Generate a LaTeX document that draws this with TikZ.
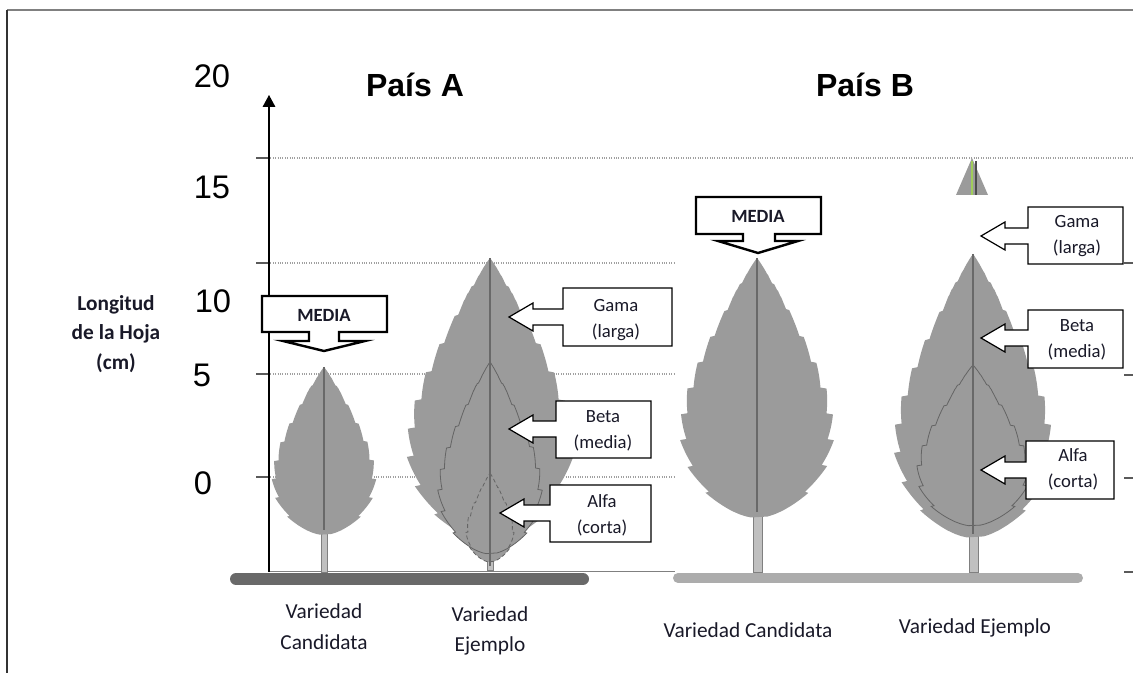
\documentclass[tikz,border=0pt]{standalone}
\usepackage{fontspec}
\setmainfont{Carlito}
\newfontfamily\arialf{Liberation Sans}
\usetikzlibrary{arrows.meta}
\definecolor{leafgray}{RGB}{155,155,155}
\definecolor{ribgray}{RGB}{105,105,105}
\definecolor{outgray}{RGB}{100,100,100}
\definecolor{stemgray}{RGB}{192,192,192}
\definecolor{gridgray}{RGB}{160,160,160}
\definecolor{tickgray}{RGB}{90,90,90}
\definecolor{txt}{RGB}{25,25,40}
\definecolor{groundA}{RGB}{105,105,105}
\definecolor{groundB}{RGB}{172,172,172}
\definecolor{tipgreen}{RGB}{160,205,90}
\newcommand\leafshape[5]{%
 plot[domain=0.002:0.998,samples=241,variable=\s] ({#1+#4*lw(\s)*(0.955+0.09*(1-saw(\s,#5)))},{#2+(#3-#2)*\s})
 -- plot[domain=0.998:0.002,samples=241,variable=\s] ({#1-#4*lw(\s)*(0.955+0.09*(1-saw(\s,#5)))},{#2+(#3-#2)*\s}) -- cycle}
\newcommand\calloutL[6]{%
 \path[callbox] (#1,#3) -- (#2,#3) -- (#2,#4) -- (#1,#4) -- (#1,#6+8) -- (#5+24,#6+8) -- (#5+24,#6+14) -- (#5,#6) -- (#5+24,#6-14) -- (#5+24,#6-8) -- (#1,#6-8) -- cycle;}
\begin{document}
\begin{tikzpicture}[x=0.75pt,y=-0.75pt,
 declare function={lw(\a)=(sin(180*(\a)^1.7))^0.55; saw(\a,\b)=\a*\b-floor(\a*\b);},
 leaf/.style={fill=leafgray},
 inner/.style={draw=outgray,line width=0.6pt},
 rib/.style={draw=ribgray,line width=0.9pt},
 stem/.style={fill=stemgray,draw=gray,line width=0.4pt},
 grid/.style={draw=gridgray,densely dotted,line width=0.8pt},
 tickm/.style={draw=tickgray,line width=1pt},
 callbox/.style={fill=white,draw=black,line width=0.9pt,line join=miter},
 mediabox/.style={fill=white,draw=black,line width=1.8pt,line join=miter},
 ctext/.style={inner sep=0pt,align=center,text=txt,font=\fontsize{14}{19.5}\selectfont},
 mtext/.style={inner sep=0pt,text=txt,font=\fontsize{14}{16}\selectfont\bfseries},
 blabel/.style={inner sep=0pt,align=center,text=txt,font=\fontsize{16}{23}\selectfont},
 num/.style={inner sep=0pt,anchor=base,font=\arialf\fontsize{24.5}{28}\selectfont},
 title/.style={inner sep=0pt,anchor=base,font=\arialf\bfseries\fontsize{24}{28}\selectfont}
]
\useasboundingbox (0,0) rectangle (1133,673);
% frame
\draw[gray,line width=1.2pt] (7,10) -- (1133,10);
\draw[black!80,line width=1.2pt] (7,10) -- (7,673);
% grid lines
\draw[grid] (256,158) -- (1133,158);
\draw[grid] (256,263) -- (675,263);
\draw[grid] (256,374) -- (675,374);
\draw[grid] (256,477) -- (675,477);
\draw[gray,line width=0.6pt] (269,571) -- (675,571);
\foreach \yy in {158,263,374,477} \draw[tickm] (256,\yy) -- (269,\yy);
\foreach \yy in {263,375,478,572} \draw[tickm] (1124,\yy) -- (1133,\yy);
% axis
\coordinate (axbot) at (269,572);
\coordinate (axtop) at (269,95);
\draw[black,line width=0.9pt,-{Triangle[length=9pt,width=9.5pt]}] (axbot) -- (axtop);
% numbers
\node[num] (n20) at (212,88) {20};
\node[num] (n15) at (212,199) {15};
\node[num] (n10) at (213,313) {10};
\node[num] (n5) at (202,387) {5};
\node[num] (n0) at (203,495) {0};
% titles
\node[title] (ta) at (415,97) {País A};
\node[title] (tb) at (865,97) {País B};
% y label
\node[inner sep=0pt,align=center,text=txt,font=\fontsize{16}{22}\selectfont\bfseries] (ylab) at (116,334) {Longitud\\de la Hoja\\(cm)};
% ground bars
\draw[groundA,line width=9pt,line cap=round] (236,579) -- (583,579);
\draw[groundB,line width=7.5pt,line cap=round] (678,578) -- (1078,578);
% stems (behind the leaves)
\filldraw[stem] (321,525) rectangle (327,572);
\filldraw[stem] (487,550) rectangle (493,570);
\filldraw[stem] (753,505) rectangle (762,572);
\filldraw[stem] (969,525) rectangle (978,572);
% candidate A
\fill[leaf] \leafshape{324}{367}{535}{50}{9};
\draw[rib] (324,367) -- (324,530);
% example A
\fill[leaf] \leafshape{490}{258}{542}{80}{10};
\fill[leaf] \leafshape{490}{362}{554}{50}{9};
\fill[leaf] \leafshape{490}{473}{562}{23}{6};
\draw[inner] \leafshape{490}{362}{554}{50}{9};
\draw[inner,densely dashed] \leafshape{490}{473}{562}{23}{6};
\draw[rib] (490,258) -- (490,566);
% candidate B
\fill[leaf] \leafshape{757}{258}{518}{74}{10};
\draw[rib] (757,258) -- (757,512);
% example B
\fill[leaf] \leafshape{973}{254}{538}{76}{10};
\draw[inner] \leafshape{973}{365}{526}{54}{8};
\draw[rib] (973,254) -- (973,534);
% tiny tip at top right
\fill[leafgray] (956,195) -- (972,158) -- (988,195) -- cycle;
\draw[tipgreen,line width=1.5pt] (972,161) -- (972,195);
\draw[black!70,line width=0.8pt] (976,161) -- (976,195);
% MEDIA callouts
\path[mediabox] (262,296) -- (387,296) -- (387,332) -- (339,332) -- (339,341) -- (365,341) -- (324,351) -- (283,341) -- (309,341) -- (309,332) -- (262,332) -- cycle;
\node[mtext] (mediaA) at (324,315) {MEDIA};
\path[mediabox] (696,197) -- (821,197) -- (821,234) -- (775,234) -- (775,241) -- (798,241) -- (758,253) -- (718,241) -- (743,241) -- (743,234) -- (696,234) -- cycle;
\node[mtext] (mediaB) at (758,216) {MEDIA};
% side callouts
\calloutL{563}{672}{288}{346}{509}{317}
\node[ctext] (gamaA) at (616,320) {Gama\\(larga)};
\calloutL{556}{651}{401}{458}{509}{429}
\node[ctext] (betaA) at (603,431) {Beta\\(media)};
\calloutL{550}{651}{485}{542}{500}{513}
\node[ctext] (alfaA) at (602,515) {Alfa\\(corta)};
\calloutL{1028}{1123}{207}{264}{981}{236}
\node[ctext] (gamaB) at (1077,236) {Gama\\(larga)};
\calloutL{1028}{1123}{310}{368}{981}{338}
\node[ctext] (betaB) at (1077,340) {Beta\\(media)};
\calloutL{1026}{1114}{441}{499}{981}{470}
\node[ctext] (alfaB) at (1073,469) {Alfa\\(corta)};
% bottom labels
\node[blabel] (lca) at (324,627) {Variedad\\Candidata};
\node[blabel] (lea) at (490,631) {Variedad\\Ejemplo};
\node[blabel] (lcb) at (748,630) {Variedad Candidata};
\node[blabel] (leb) at (975,628) {Variedad Ejemplo};
\end{tikzpicture}
\end{document}
